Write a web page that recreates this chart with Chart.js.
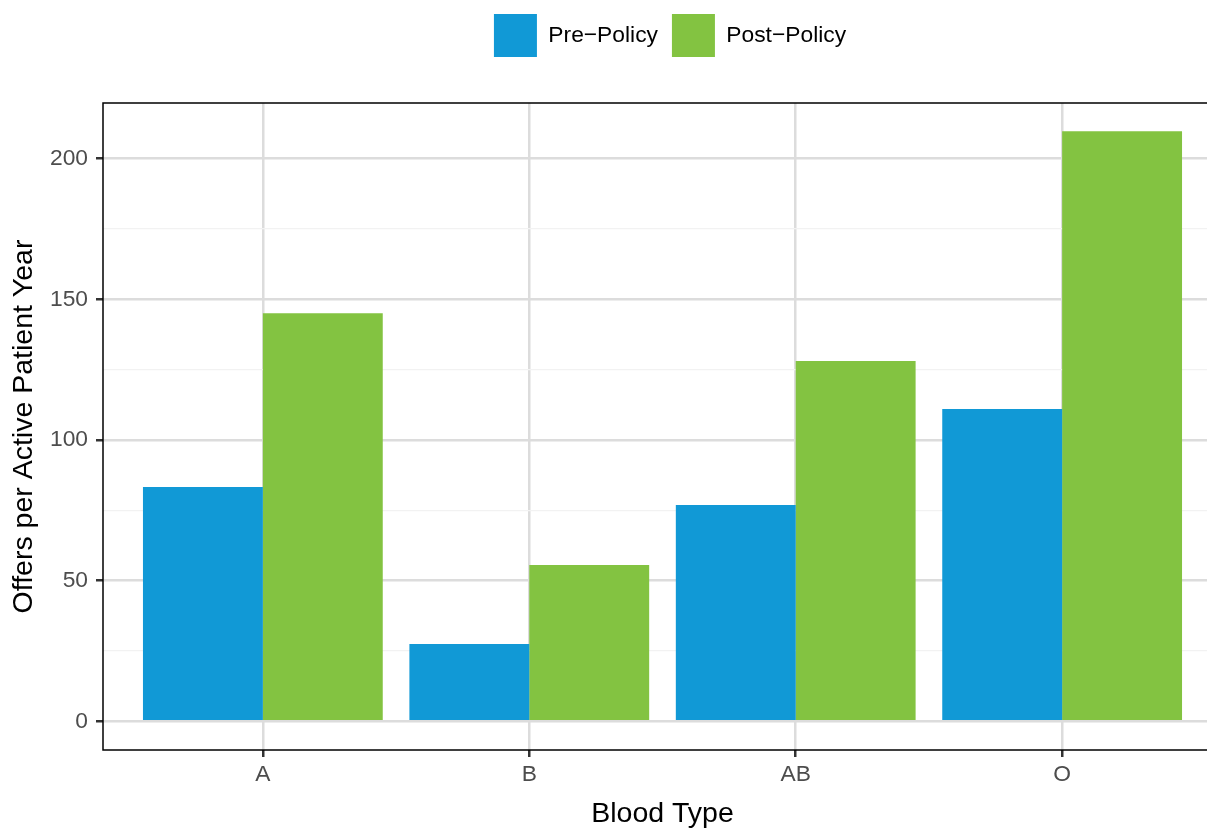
<!DOCTYPE html>
<html>
<head>
<meta charset="utf-8">
<script src="https://cdn.jsdelivr.net/npm/chart.js@4"></script>
<style>
  html, body { margin: 0; padding: 0; background: #fff; overflow: hidden; }
  canvas { display: block; }
</style>
</head>
<body>
<canvas id="grafico" width="1340" height="828"></canvas>
<script>
const categorias = ['A', 'B', 'AB', 'O'];
const prePolicy = [83.3, 27.5, 76.9, 111.0];
const postPolicy = [145.1, 55.6, 128.1, 209.8];
const yTicks = [0, 25, 50, 75, 100, 125, 150, 175, 200];
const nomesSeries = ['Pre\u2212Policy', 'Post\u2212Policy'];

const fonte = 'Liberation Sans, Arial, Helvetica, sans-serif';

// borda do painel (theme_bw)
const bordaPainel = {
    id: 'bordaPainel',
    afterDatasetsDraw(chart) {
        const { ctx, chartArea: a } = chart;
        ctx.save();
        ctx.strokeStyle = '#000';
        ctx.lineWidth = 1.5;
        ctx.strokeRect(a.left, a.top, a.right - a.left, a.bottom - a.top);
        ctx.restore();
    }
};

const ctx = document.getElementById('grafico').getContext('2d');

new Chart(ctx, {
    type: 'bar',
    data: {
        datasets: [
            {
                label: nomesSeries[0],
                data: prePolicy.map((v, i) => ({ x: i + 1, y: v })),
                backgroundColor: '#1199d6',
                borderWidth: 0
            },
            {
                label: nomesSeries[1],
                data: postPolicy.map((v, i) => ({ x: i + 1, y: v })),
                backgroundColor: '#83c341',
                borderWidth: 0
            }
        ]
    },
    options: {
        responsive: false,
        animation: false,
        categoryPercentage: 0.9,
        barPercentage: 1.0,
        layout: { padding: 0 },
        plugins: {
            tooltip: { enabled: false },
            legend: {
                position: 'top',
                labels: {
                    boxWidth: 43,
                    boxHeight: 43,
                    padding: 14,
                    color: '#000',
                    font: { family: fonte, size: 22.8 }
                }
            },
            // espaçador entre legenda e painel
            title: {
                display: true,
                text: '',
                weight: 500,
                padding: { top: 26, bottom: 0 },
                font: { size: 10, lineHeight: 1 }
            }
        },
        scales: {
            x: {
                type: 'linear',
                min: 0.4,
                max: 4.6,
                offset: false,
                afterBuildTicks: s => { s.ticks = categorias.map((c, i) => ({ value: i + 1 })); },
                afterFit: s => { s.height = 78; },
                border: { display: false },
                grid: {
                    offset: false,
                    color: '#dcdcdc',
                    lineWidth: 2.5,
                    tickColor: '#333',
                    tickWidth: 2.5,
                    tickLength: 7
                },
                ticks: {
                    padding: 4,
                    color: '#4d4d4d',
                    font: { family: fonte, size: 22.8 },
                    maxRotation: 0,
                    callback: v => categorias[v - 1] ?? ''
                },
                title: {
                    display: true,
                    text: 'Blood Type',
                    color: '#000',
                    padding: { top: 0, bottom: 0 },
                    font: { family: fonte, size: 28.5, lineHeight: 1 }
                }
            },
            y: {
                min: -10.2,
                max: 219.8,
                afterBuildTicks: s => { s.ticks = yTicks.map(v => ({ value: v })); },
                afterFit: s => { s.width = 103; },
                border: { display: false },
                grid: {
                    color: c => c.tick && c.tick.value % 50 === 0 ? '#dcdcdc' : '#f2f2f2',
                    lineWidth: c => c.tick && c.tick.value % 50 === 0 ? 2.5 : 1.3,
                    tickColor: c => c.tick && c.tick.value % 50 === 0 ? '#333' : 'rgba(0,0,0,0)',
                    tickWidth: 2.5,
                    tickLength: 7
                },
                ticks: {
                    padding: 8,
                    color: '#4d4d4d',
                    font: { family: fonte, size: 22.8 },
                    callback: v => v % 50 === 0 ? v : ''
                },
                title: {
                    display: true,
                    text: 'Offers per Active Patient Year',
                    color: '#000',
                    padding: { top: 10, bottom: 0 },
                    font: { family: fonte, size: 28.5, lineHeight: 1 }
                }
            },
            // eixo vazio à direita só para centralizar a legenda como no ggplot
            yDir: {
                position: 'right',
                display: true,
                afterFit: s => { s.width = 118; },
                border: { display: false },
                grid: { display: false },
                ticks: { display: false }
            }
        }
    },
    plugins: [bordaPainel]
});
</script>
</body>
</html>
